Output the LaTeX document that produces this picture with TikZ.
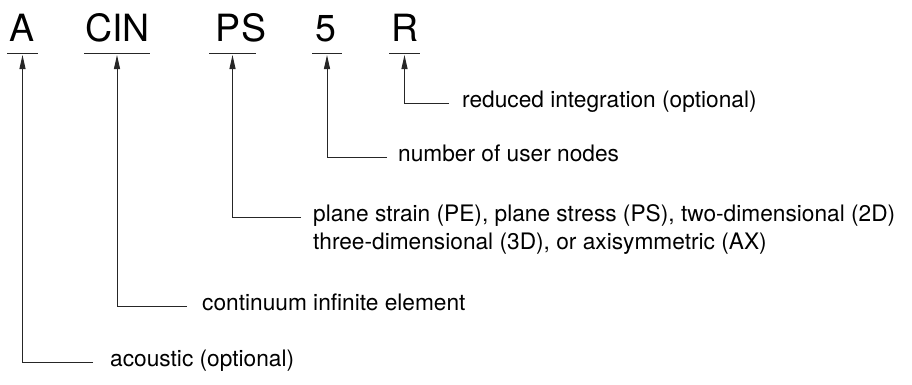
\documentclass[tikz,border=0pt]{standalone}
\usepackage{fontspec}
\setmainfont{TeX Gyre Heros}
\usetikzlibrary{arrows.meta,positioning}
\tikzset{
  code/.style={font=\fontsize{37.5}{40}\selectfont, inner sep=0pt, anchor=base},
  desc/.style={font=\fontsize{22.7}{28}\selectfont, inner sep=0pt, anchor=base west, align=left},
  lnk/.style={black!85, line width=1pt},
  ubar/.style={inner sep=0pt, outer sep=0pt, minimum height=0pt,
      append after command={(\tikzlastnode.west) edge[lnk] (\tikzlastnode.east)}},
  parr/.style={lnk, -{Triangle[length=14pt, width=6pt]}, shorten >=2pt},
}
\begin{document}
\begin{tikzpicture}[x=1pt,y=-1pt]
  \useasboundingbox (0,0) rectangle (912,384);
  % parts of the element name, each with its bar
  \foreach \nm/\cx/\ux/\uw/\txt in {a/22.5/22.5/31/A, cin/117.5/117/66/CIN,
                                   ps/241/232.5/47/PS, five/326/327/30/5, r/405.5/404.5/31/R}{
    \node[code] (\nm) at (\cx,41) {\txt};
    \node[ubar, minimum width=\uw pt] (u\nm) at (\ux,53) {};
  }
  % what each part means (base west of a two-line node is its last line)
  \node[desc] (da) at (110,366) {acoustic (optional)};
  \node[desc] (dcin) at (202,310) {continuum infinite element};
  \node[desc] (dps) at (313,249) {plane strain (PE), plane stress (PS), two-dimensional (2D)\\
                                  three-dimensional (3D), or axisymmetric (AX)};
  \node[desc] (dfive) at (398,161) {number of user nodes};
  \node[desc] (dr) at (462,107) {reduced integration (optional)};
  \foreach \nm/\gap/\up in {a/17/4, cin/15/4, ps/12/32, five/11/4, r/13/4}
    \draw[parr] ([shift={(-\gap,-\up)}]d\nm.base west) -| (u\nm);
\end{tikzpicture}
\end{document}
